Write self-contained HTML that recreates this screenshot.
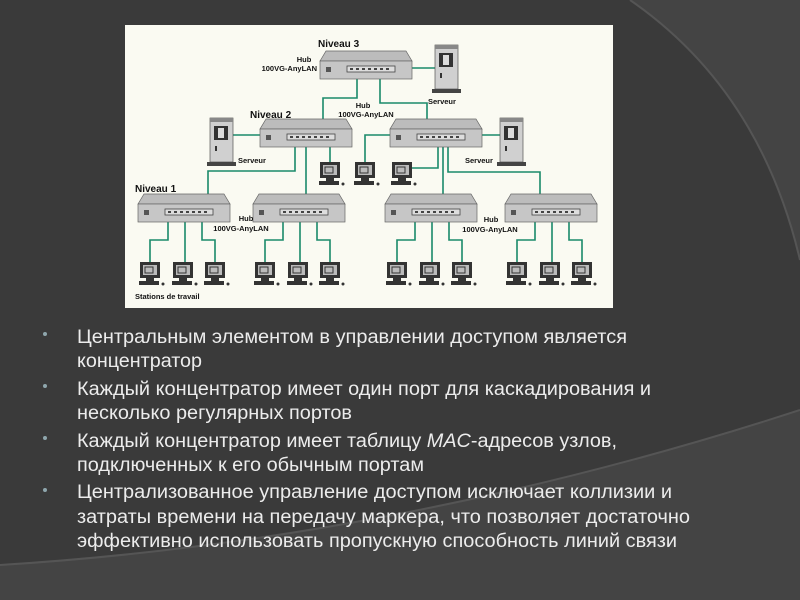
<!DOCTYPE html>
<html><head><meta charset="utf-8"><style>
html,body{margin:0;padding:0;background:#3a3a3a;width:800px;height:600px;overflow:hidden}
</style></head><body>
<svg width="800" height="600" viewBox="0 0 800 600" xmlns="http://www.w3.org/2000/svg" font-family="Liberation Sans, sans-serif">
<defs>
<g id="ws">
 <rect x="-10" y="0" width="20" height="16" fill="#333"/>
 <rect x="-7" y="3" width="14" height="10" fill="#bbb"/>
 <rect x="-5" y="5" width="8" height="6" fill="none" stroke="#333" stroke-width="1"/>
 <rect x="-4" y="16" width="8" height="3" fill="#333"/>
 <rect x="-11" y="19" width="20" height="4" fill="#333"/>
 <circle cx="13" cy="22" r="1.5" fill="#333"/>
</g>
<g id="hub">
 <polygon points="0,10 6,0 86,0 92,10" fill="#bcbcbc" stroke="#666" stroke-width="0.7"/>
 <rect x="0" y="10" width="92" height="18" fill="#c6c6c6" stroke="#666" stroke-width="0.7"/>
 <rect x="6" y="16" width="5" height="5" fill="#555"/>
 <rect x="27" y="15" width="48" height="6" fill="#ddd" stroke="#444" stroke-width="0.8"/>
 <g fill="#444"><rect x="30" y="17" width="3" height="2"/><rect x="36" y="17" width="3" height="2"/><rect x="42" y="17" width="3" height="2"/><rect x="48" y="17" width="3" height="2"/><rect x="54" y="17" width="3" height="2"/><rect x="60" y="17" width="3" height="2"/><rect x="66" y="17" width="3" height="2"/></g>
</g>
<g id="srv">
 <rect x="0" y="0" width="23" height="44" fill="#d0d0d0" stroke="#555" stroke-width="0.7"/>
 <rect x="0" y="0" width="23" height="4" fill="#888"/>
 <rect x="4" y="8" width="14" height="14" fill="#333"/>
 <rect x="8" y="10" width="6" height="10" fill="#ddd"/>
 <rect x="5" y="28" width="2" height="5" fill="#333"/>
 <rect x="-3" y="44" width="29" height="4" fill="#444"/>
</g>
</defs>
<rect width="800" height="600" fill="#3a3a3a"/>
<path d="M630,0 Q760,90 800,260 L800,0 Z" fill="#444"/>
<path d="M630,0 Q760,90 800,260" fill="none" stroke="#555" stroke-width="2"/>
<path d="M0,565 Q400,540 800,410 L800,600 L0,600 Z" fill="#444"/>
<path d="M0,565 Q400,540 800,410" fill="none" stroke="#555" stroke-width="2"/>

<rect x="125" y="25" width="488" height="283" fill="#fafaf2"/>

<g fill="none" stroke="#1a8a6a" stroke-width="1.6">
 <path d="M357,68 V98 H323 V135"/>
 <path d="M380,68 V103 H427 V135"/>
 <path d="M395,68 H435"/>
 <path d="M233,135 H287"/>
 <path d="M295,135 V171 H208 V210"/>
 <path d="M306,135 V210"/>
 <path d="M330,135 V162"/>
 <path d="M412,135 H365 V162"/>
 <path d="M463,135 H500"/>
 <path d="M438,135 V168 H410"/>
 <path d="M443,135 V210"/>
 <path d="M448,135 V172 H540 V210"/>
 <path d="M168,210 V240 H150 V262 M185,210 V262 M202,210 V240 H215 V262"/>
 <path d="M283,210 V240 H265 V262 M300,210 V262 M317,210 V240 H330 V262"/>
 <path d="M415,210 V240 H397 V262 M432,210 V262 M449,210 V240 H462 V262"/>
 <path d="M535,210 V240 H517 V262 M552,210 V262 M569,210 V240 H582 V262"/>
</g>

<use href="#hub" x="320" y="51"/>
<use href="#hub" x="260" y="119"/>
<use href="#hub" x="390" y="119"/>
<use href="#hub" x="138" y="194"/>
<use href="#hub" x="253" y="194"/>
<use href="#hub" x="385" y="194"/>
<use href="#hub" x="505" y="194"/>
<use href="#srv" x="435" y="45"/>
<use href="#srv" x="210" y="118"/>
<use href="#srv" x="500" y="118"/>
<use href="#ws" x="330" y="162"/>
<use href="#ws" x="365" y="162"/>
<use href="#ws" x="402" y="162"/>
<use href="#ws" x="150" y="262"/><use href="#ws" x="183" y="262"/><use href="#ws" x="215" y="262"/>
<use href="#ws" x="265" y="262"/><use href="#ws" x="298" y="262"/><use href="#ws" x="330" y="262"/>
<use href="#ws" x="397" y="262"/><use href="#ws" x="430" y="262"/><use href="#ws" x="462" y="262"/>
<use href="#ws" x="517" y="262"/><use href="#ws" x="550" y="262"/><use href="#ws" x="582" y="262"/>

<g fill="#111" font-weight="bold">
 <text x="318" y="47" font-size="10">Niveau 3</text>
 <text x="250" y="118" font-size="10">Niveau 2</text>
 <text x="135" y="192" font-size="10">Niveau 1</text>
 <g font-size="7.5">
  <text x="304" y="62" text-anchor="middle">Hub</text>
  <text x="317" y="71" text-anchor="end">100VG-AnyLAN</text>
  <text x="363" y="108" text-anchor="middle">Hub</text>
  <text x="366" y="117" text-anchor="middle">100VG-AnyLAN</text>
  <text x="428" y="104">Serveur</text>
  <text x="238" y="163">Serveur</text>
  <text x="465" y="163">Serveur</text>
  <text x="246" y="221" text-anchor="middle">Hub</text>
  <text x="241" y="231" text-anchor="middle">100VG-AnyLAN</text>
  <text x="491" y="222" text-anchor="middle">Hub</text>
  <text x="490" y="232" text-anchor="middle">100VG-AnyLAN</text>
  <text x="135" y="299">Stations de travail</text>
 </g>
</g>

<g fill="#8fa6ad">
 <circle cx="45" cy="334" r="2"/><circle cx="45" cy="386" r="2"/><circle cx="45" cy="438" r="2"/><circle cx="45" cy="490" r="2"/>
</g>
<g fill="#ececec" font-size="19" font-family="Liberation Sans Narrow, Liberation Sans, sans-serif">
 <text x="77" y="343" textLength="550" lengthAdjust="spacingAndGlyphs">Центральным элементом в управлении доступом является</text>
 <text x="77" y="367" textLength="125" lengthAdjust="spacingAndGlyphs">концентратор</text>
 <text x="77" y="395" textLength="574" lengthAdjust="spacingAndGlyphs">Каждый концентратор имеет один порт для каскадирования и</text>
 <text x="77" y="419" textLength="275" lengthAdjust="spacingAndGlyphs">несколько регулярных портов</text>
 <text x="77" y="447" textLength="540" lengthAdjust="spacingAndGlyphs">Каждый концентратор имеет таблицу <tspan font-style="italic">MAC</tspan>-адресов узлов,</text>
 <text x="77" y="471" textLength="347" lengthAdjust="spacingAndGlyphs">подключенных к его обычным портам</text>
 <text x="77" y="498" textLength="595" lengthAdjust="spacingAndGlyphs">Централизованное управление доступом исключает коллизии и</text>
 <text x="77" y="523" textLength="613" lengthAdjust="spacingAndGlyphs">затраты времени на передачу маркера, что позволяет достаточно</text>
 <text x="77" y="547" textLength="600" lengthAdjust="spacingAndGlyphs">эффективно использовать пропускную способность линий связи</text>
</g>
</svg>
</body></html>
